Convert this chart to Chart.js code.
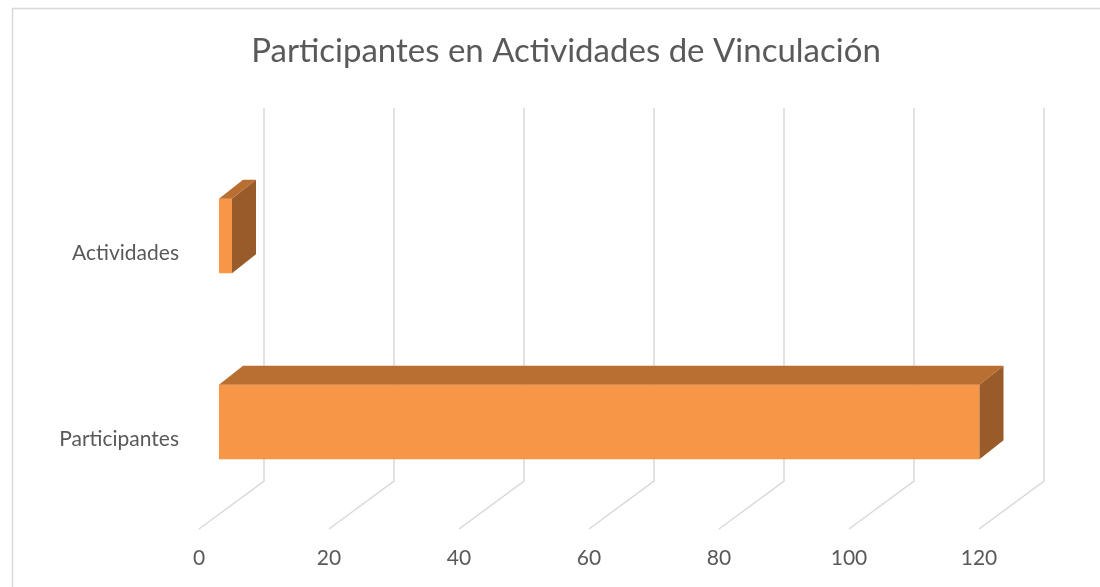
<!DOCTYPE html>
<html>
<head>
<meta charset="utf-8">
<script src="https://cdn.jsdelivr.net/npm/chart.js@4"></script>
<style>
  html, body { margin: 0; padding: 0; background: #ffffff; }
  #wrap { width: 1100px; height: 587px; }
</style>
</head>
<body>
<div id="wrap"><canvas id="chart" width="1100" height="587"></canvas></div>
<script>
// data
const categories = ['Participantes', 'Actividades'];
const values = [117, 2];
const tickValues = [0, 20, 40, 60, 80, 100, 120];

const frontColor = '#F79646';
const topColor = '#B96E32';
const sideColor = '#9A5B2A';
const gridColor = '#D9D9D9';
const textColor = '#595959';

// 3D depth of the bars and of the floor/wall
const barDepthX = 24, barDepthY = -19;
const wallOffsetX = 45;   // back wall relative to bar front face
const floorOffsetX = -20; // front floor edge relative to bar front face

const frame = {
    id: 'frame',
    beforeDraw(chart) {
        const ctx = chart.ctx;
        ctx.save();
        ctx.strokeStyle = gridColor;
        ctx.lineWidth = 1.5;
        ctx.beginPath();
        ctx.moveTo(12.5, 587);
        ctx.lineTo(12.5, 8.5);
        ctx.lineTo(1100, 8.5);
        ctx.stroke();
        ctx.restore();
    }
};

// back wall lines + floor diagonals
const wallGrid = {
    id: 'wallGrid',
    beforeDatasetsDraw(chart) {
        const ctx = chart.ctx;
        const xs = chart.scales.x;
        const area = chart.chartArea;
        const wallTop = area.top - 35;
        const wallBottom = area.bottom - 34;
        const floorFront = area.bottom + 14;
        ctx.save();
        ctx.strokeStyle = gridColor;
        ctx.lineWidth = 1.5;
        tickValues.forEach(v => {
            const px = xs.getPixelForValue(v);
            ctx.beginPath();
            ctx.moveTo(px + wallOffsetX, wallTop);
            ctx.lineTo(px + wallOffsetX, wallBottom);
            ctx.lineTo(px + floorOffsetX, floorFront);
            ctx.stroke();
        });
        ctx.restore();
    }
};

// top and side faces of each bar
const bars3d = {
    id: 'bars3d',
    afterDatasetsDraw(chart) {
        const ctx = chart.ctx;
        const meta = chart.getDatasetMeta(0);
        ctx.save();
        meta.data.forEach(bar => {
            const p = bar.getProps(['x', 'y', 'base', 'height'], true);
            const top = p.y - p.height / 2;
            const bottom = p.y + p.height / 2;
            // top face
            ctx.fillStyle = topColor;
            ctx.beginPath();
            ctx.moveTo(p.base, top);
            ctx.lineTo(p.base + barDepthX, top + barDepthY);
            ctx.lineTo(p.x + barDepthX, top + barDepthY);
            ctx.lineTo(p.x, top);
            ctx.closePath();
            ctx.fill();
            // side face
            ctx.fillStyle = sideColor;
            ctx.beginPath();
            ctx.moveTo(p.x, top);
            ctx.lineTo(p.x + barDepthX, top + barDepthY);
            ctx.lineTo(p.x + barDepthX, bottom + barDepthY);
            ctx.lineTo(p.x, bottom);
            ctx.closePath();
            ctx.fill();
        });
        ctx.restore();
    }
};

new Chart(document.getElementById('chart'), {
    type: 'bar',
    data: {
        labels: categories,
        datasets: [{
            data: values,
            backgroundColor: frontColor,
            borderWidth: 0,
            categoryPercentage: 1,
            barPercentage: 0.4
        }]
    },
    options: {
        indexAxis: 'y',
        responsive: false,
        animation: false,
        layout: { padding: { left: 40, right: 8, top: 0, bottom: 0 } },
        plugins: {
            legend: { display: false },
            tooltip: { enabled: false },
            title: {
                display: true,
                text: 'Participantes en Actividades de Vinculación',
                color: textColor,
                font: { family: 'Lato', size: 33, weight: 'normal' },
                padding: { top: 32, bottom: 71.4 }
            }
        },
        scales: {
            x: {
                min: 0,
                max: 120 * (1092 - 219) / 780,
                grid: { display: false, drawTicks: false },
                border: { display: false },
                afterBuildTicks(scale) {
                    scale.ticks = tickValues.map(v => ({ value: v }));
                },
                afterFit(scale) { scale.height = 72; },
                ticks: {
                    color: textColor,
                    font: { family: 'Lato', size: 21 },
                    padding: 31,
                    labelOffset: floorOffsetX,
                    maxRotation: 0
                }
            },
            y: {
                reverse: true,
                grid: { display: false, drawTicks: false },
                border: { display: false },
                afterFit(scale) { scale.width = 179; },
                ticks: {
                    color: textColor,
                    font: { family: 'Lato', size: 21 },
                    padding: 40,
                    labelOffset: 17
                }
            }
        }
    },
    plugins: [frame, wallGrid, bars3d]
});
</script>
</body>
</html>
